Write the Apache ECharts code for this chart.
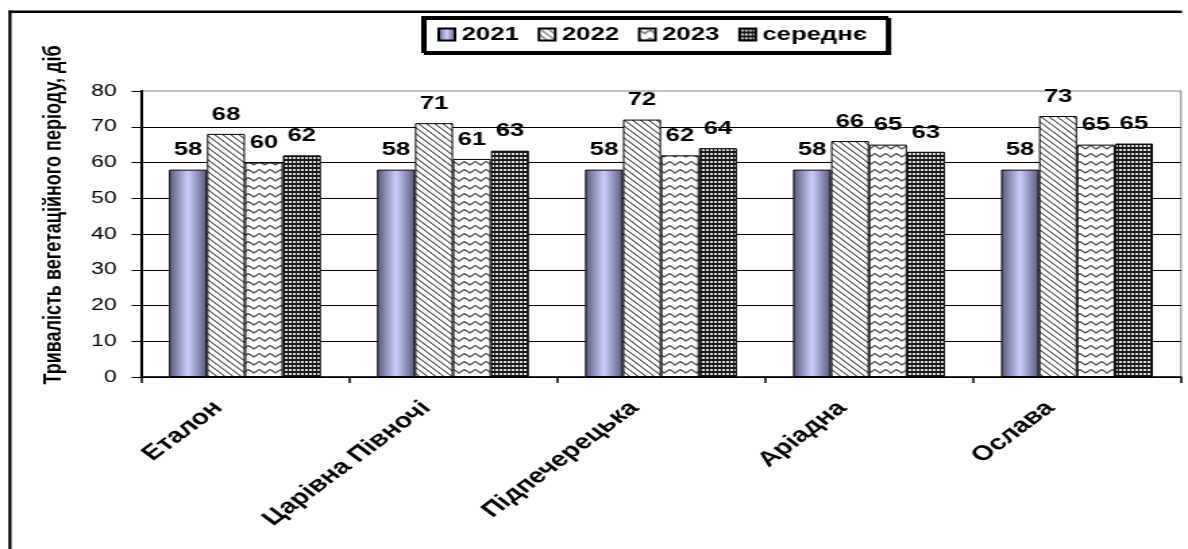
<!DOCTYPE html>
<html>
<head>
<meta charset="utf-8">
<script src="https://cdn.jsdelivr.net/npm/echarts@6/dist/echarts.min.js"></script>
<style>
html,body{margin:0;padding:0;background:#fff;overflow:hidden;}
#wrap{width:880px;height:549px;transform:scaleX(1.35);transform-origin:0 0;}
#chart{width:880px;height:549px;}
</style>
</head>
<body>
<div id="wrap"><div id="chart"></div></div>
<script>
// ---- data ----
const categories = ['Еталон', 'Царівна Півночі', 'Підпечерецька', 'Аріадна', 'Ослава'];
const seriesNames = ['2021', '2022', '2023', 'середнє'];
const values2021 = [58, 58, 58, 58, 58];
const values2022 = [68, 71, 72, 66, 73];
const values2023 = [60, 61, 62, 65, 65];
const valuesAvg = [62, 63.3, 64, 63, 65.3];
const yTitle = 'Тривалість вегетаційного періоду, діб';
const yMin = 0, yMax = 80, yStep = 10;

// ---- fill patterns ----
function makeTile(w, h, draw) {
  const c = document.createElement('canvas');
  c.width = w; c.height = h;
  const ctx = c.getContext('2d');
  draw(ctx, w, h);
  return { image: c, repeat: 'repeat' };
}
const fill2021 = {
  type: 'linear', x: 0, y: 0, x2: 1, y2: 0,
  colorStops: [
    { offset: 0, color: '#58587a' },
    { offset: 0.5, color: '#cacdff' },
    { offset: 1, color: '#58587a' }
  ]
};
const fill2022 = makeTile(6, 6, (ctx, w, h) => {
  ctx.fillStyle = '#fff'; ctx.fillRect(0, 0, w, h);
  for (let i = 0; i < w; i++) {
    ctx.fillStyle = '#555'; ctx.fillRect(i, i, 1, 1);
    ctx.fillStyle = '#aaa'; ctx.fillRect((i + 1) % w, i, 1, 1);
  }
});
const fill2023 = makeTile(8, 8, (ctx, w, h) => {
  ctx.fillStyle = '#fff'; ctx.fillRect(0, 0, w, h);
  ctx.strokeStyle = '#444'; ctx.lineWidth = 1.3;
  ctx.beginPath();
  ctx.moveTo(-4, 5); ctx.lineTo(0, 1.5); ctx.lineTo(4, 5); ctx.lineTo(8, 1.5); ctx.lineTo(12, 5);
  ctx.stroke();
});
const fillAvg = makeTile(3, 4, (ctx, w, h) => {
  ctx.fillStyle = '#1a1a1a'; ctx.fillRect(0, 0, w, h);
  ctx.fillStyle = '#dcdcdc'; ctx.fillRect(1, 1, 2, 2);
});
const fills = [fill2021, fill2022, fill2023, fillAvg];
const dataSets = [values2021, values2022, values2023, valuesAvg];

const FONT = '"Liberation Sans", Arial, sans-serif';

const chart = echarts.init(document.getElementById('chart'), null, { renderer: 'canvas' });
chart.setOption({
  animation: false,
  backgroundColor: '#fff',
  grid: {
    left: 104.4, right: 5.2, top: 91, bottom: 172,
    show: true, borderColor: '#808080', borderWidth: 1, backgroundColor: 'transparent'
  },
  legend: {
    data: seriesNames,
    left: 313, top: 17,
    orient: 'horizontal',
    icon: 'rect',
    itemWidth: 12, itemHeight: 12,
    itemGap: 14,
    padding: [8, 15, 8, 11],
    borderColor: '#000', borderWidth: 2,
    backgroundColor: '#fff',
    shadowColor: '#000', shadowOffsetX: 2, shadowOffsetY: 2, shadowBlur: 0,
    textStyle: { fontFamily: FONT, fontSize: 19, fontWeight: 'bold', color: '#000' }
  },
  xAxis: {
    type: 'category',
    data: categories,
    boundaryGap: true,
    axisLine: { lineStyle: { color: '#000', width: 1.5 } },
    axisTick: { show: true, length: 6, interval: 0, lineStyle: { color: '#000', width: 1.5 } },
    axisLabel: {
      interval: 0, rotate: 45, margin: 8,
      padding: [0, 28, 0, 0],
      fontFamily: FONT, fontSize: 21, fontWeight: 'bold', color: '#000'
    },
    splitLine: { show: false }
  },
  yAxis: {
    type: 'value',
    min: yMin, max: yMax, interval: yStep,
    axisLine: { show: true, lineStyle: { color: '#000', width: 2 } },
    axisTick: { show: true, length: 7, lineStyle: { color: '#000', width: 1 } },
    axisLabel: { margin: 18, fontFamily: FONT, fontSize: 17, color: '#000' },
    splitLine: { show: true, showMaxLine: false, lineStyle: { color: '#000', width: 1 } }
  },
  graphic: [
    { type: 'rect', shape: { x: 6.5, y: 10.5, width: 869, height: 2.5 }, style: { fill: '#000' }, silent: true },
    { type: 'rect', shape: { x: 6.2, y: 10.5, width: 2.3, height: 545 }, style: { fill: '#000' }, silent: true },
    {
      type: 'text', x: 40, y: 215, rotation: Math.PI / 2,
      style: {
        text: yTitle,
        font: 'bold 18px "Liberation Sans Narrow", "Liberation Sans", Arial, sans-serif',
        align: 'center', verticalAlign: 'middle',
        textAlign: 'center', textVerticalAlign: 'middle',
        fill: '#000'
      }
    }
  ],
  series: seriesNames.map((name, i) => ({
    name: name,
    type: 'bar',
    data: dataSets[i],
    barGap: '0%',
    barCategoryGap: '27%',
    itemStyle: { color: fills[i], borderColor: '#000', borderWidth: 1 },
    label: {
      show: true, position: 'top', distance: 10,
      fontFamily: FONT, fontSize: 19, fontWeight: 'bold', color: '#000',
      formatter: p => String(Math.round(p.value))
    }
  }))
});
</script>
</body>
</html>
